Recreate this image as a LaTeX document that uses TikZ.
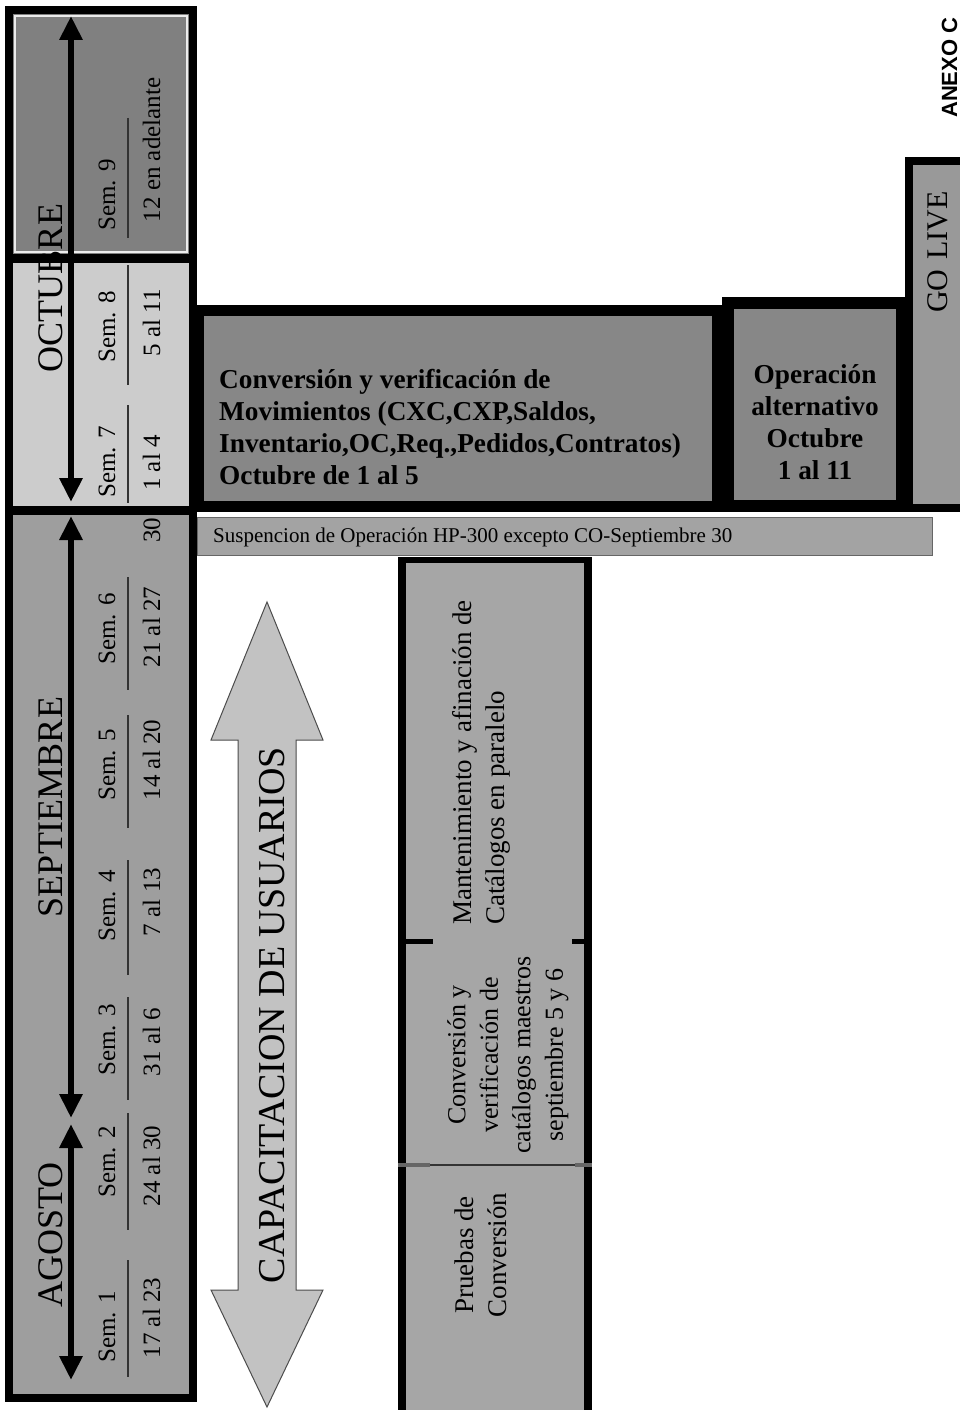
\documentclass[tikz,border=0pt]{standalone}
\usepackage{fontspec}
\setmainfont{Liberation Serif}
\newfontfamily\annexfont{Liberation Sans}
\usetikzlibrary{arrows.meta}

\definecolor{calDark}{gray}{0.50}
\definecolor{calLight}{gray}{0.80}
\definecolor{calMid}{gray}{0.62}
\definecolor{boxDark}{gray}{0.53}
\definecolor{barGray}{gray}{0.64}
\definecolor{colGray}{gray}{0.65}
\definecolor{arrowGray}{gray}{0.76}
\definecolor{goGray}{gray}{0.60}

\tikzset{
  vtext/.style={rotate=90, inner sep=0pt, text=black},
  monthlbl/.style={vtext, anchor=base, font=\fontsize{36}{40}\selectfont},
  weeklbl/.style={vtext, anchor=base, font=\fontsize{25}{28}\selectfont},
  weekrule/.style={draw=black!80, line width=1.3pt},
  spanarrow/.style={line width=6pt,
    {Triangle[length=24pt,width=22pt]}-{Triangle[length=24pt,width=22pt]}},
  boldblock/.style={inner sep=0pt, font=\fontsize{27.3}{32}\selectfont\bfseries},
  panel/.style={draw=black, fill=#1, inner sep=0pt},
  colpart/.style={fill=colGray, inner sep=0pt, minimum width=186pt},
}

\begin{document}
\begin{tikzpicture}[x=1pt,y=-1pt]
\useasboundingbox (0,0) rectangle (960,1410);
\fill[white] (0,0) rectangle (960,1410);

% ---------------- calendar column ----------------
\fill[calDark]  (9,10)  rectangle (193,258);
\fill[calLight] (9,258) rectangle (193,510);
\fill[calMid]   (9,510) rectangle (193,1398);
\draw[white!85!gray, line width=1.5pt] (15,16) rectangle (187,252);

% month names
\node[monthlbl] (oct) at (62,288)  {OCTUBRE};
\node[monthlbl] (sep) at (62,807)  {SEPTIEMBRE};
\node[monthlbl] (ago) at (62,1235) {AGOSTO};

% month span arrows
\coordinate (octTop) at (71,16);
\coordinate (octBot) at (71,502);
\coordinate (sepTop) at (71,516);
\coordinate (sepBot) at (71,1118);
\coordinate (agoTop) at (71,1124);
\coordinate (agoBot) at (71,1380);
\draw[spanarrow] (octTop) -- (octBot);
\draw[spanarrow] (sepTop) -- (sepBot);
\draw[spanarrow] (agoTop) -- (agoBot);

% weeks and dates
\node[weeklbl] (s9) at (115,195)  {Sem. 9};
\node[weeklbl] (d9) at (160,150)  {12 en adelante};
\node[weeklbl] (s8) at (115,327)  {Sem. 8};
\node[weeklbl] (d8) at (160,323)  {5 al 11};
\node[weeklbl] (s7) at (115,462)  {Sem. 7};
\node[weeklbl] (d7) at (160,463)  {1 al 4};
\node[weeklbl] (d30) at (160,530) {30};
\node[weeklbl] (s6) at (115,629)  {Sem. 6};
\node[weeklbl] (d6) at (160,627)  {21 al 27};
\node[weeklbl] (s5) at (115,765)  {Sem. 5};
\node[weeklbl] (d5) at (160,760)  {14 al 20};
\node[weeklbl] (s4) at (115,906)  {Sem. 4};
\node[weeklbl] (d4) at (160,902)  {7 al 13};
\node[weeklbl] (s3) at (115,1040) {Sem. 3};
\node[weeklbl] (d3) at (160,1042) {31 al 6};
\node[weeklbl] (s2) at (115,1162) {Sem. 2};
\node[weeklbl] (d2) at (160,1166) {24 al 30};
\node[weeklbl] (s1) at (115,1327) {Sem. 1};
\node[weeklbl] (d1) at (160,1318) {17 al 23};

% rules between week and date
\foreach \a/\b in {118/238, 265/385, 405/503, 577/690, 715/828,
                   860/975, 997/1100, 1113/1230, 1260/1377}
  \draw[weekrule] (128,\a) -- (128,\b);

% frame and month separators
\draw[line width=9pt] (9,258) -- (193,258);
\draw[line width=9pt] (9,510) -- (193,510);
\draw[line width=8pt] (9,10) rectangle (193,1398);

% ---------------- movements conversion ----------------
\node[panel=boxDark, line width=11pt, minimum width=519pt, minimum height=196pt]
  (conv) at (458,408.5) {};
\node[boldblock, align=left, anchor=west] (convtext) at (219,427)
  {Conversión y verificación de\\
   Movimientos (CXC,CXP,Saldos,\\
   Inventario,OC,Req.,Pedidos,Contratos)\\
   Octubre de 1 al 5};

% alternative operation
\node[panel=boxDark, line width=12pt, minimum width=174pt, minimum height=203pt]
  (alt) at (815,404.5) {};
\node[boldblock, align=center] (alttext) at (815,422)
  {Operación\\alternativo\\Octubre\\1 al 11};

% go live
\node[panel=goGray, line width=8pt, minimum width=67pt, minimum height=347pt]
  (golive) at (942.5,334.5) {};
\node[vtext, anchor=base, font=\fontsize{30}{34}\selectfont] (golivetext)
  at (947,252) {GO\,\,LIVE};

% suspension bar
\node[draw=black!60, fill=barGray, line width=1pt, inner sep=0pt,
      minimum width=735pt, minimum height=38pt] (susp) at (564.5,536) {};
\node[inner sep=0pt, anchor=base west, font=\fontsize{21}{24}\selectfont]
  (susptext) at (213,542)
  {Suspencion de Operación HP-300 excepto CO-Septiembre 30};

% ---------------- catalogue column ----------------
\node[colpart, minimum height=383pt] (mant) at (495,750.5) {};
\node[colpart, minimum height=225pt] (cat)  at (495,1052.5) {};
\node[colpart, minimum height=245pt] (prue) at (495,1287.5) {};
\draw[line width=8pt] (402,557) -- (402,1410);
\draw[line width=8pt] (588,557) -- (588,1410);
\draw[line width=6pt] (398,560) -- (592,560);
\draw[line width=5pt] (398,941) -- (433,941);
\draw[line width=5pt] (572,941) -- (592,941);
\draw[line width=1.2pt, black!80] (402,1165) -- (588,1165);
\draw[line width=4pt, black!60] (398,1165) -- (430,1165);
\draw[line width=4pt, black!60] (575,1165) -- (592,1165);

\node[vtext, align=left, anchor=west, font=\fontsize{27}{33}\selectfont]
  (manttext) at (481,925)
  {Mantenimiento y afinación de\\Catálogos en paralelo};
\node[vtext, align=center, font=\fontsize{26}{32.5}\selectfont]
  (cattext) at (508,1055)
  {Conversión y\\verificación de\\catálogos maestros\\septiembre 5 y 6};
\node[vtext, align=center, font=\fontsize{27}{33}\selectfont]
  (pruetext) at (481,1255)
  {Pruebas de\\Conversión};

% ---------------- user training ----------------
\draw[draw=black!70, line width=1pt, fill=arrowGray]
  (267,602) -- (323,740) -- (296,740) -- (296,1290) -- (323,1290)
  -- (267,1407) -- (211,1290) -- (238,1290) -- (238,740) -- (211,740) -- cycle;
\node[vtext, anchor=base, font=\fontsize{38}{42}\selectfont] (training)
  at (284,1015) {CAPACITACION DE USUARIOS};

% annex heading along the right edge of the page
\node[vtext, anchor=base west, font=\annexfont\bfseries\fontsize{22}{26}\selectfont]
  (annex) at (957,118) {ANEXO C};
\end{tikzpicture}
\end{document}
